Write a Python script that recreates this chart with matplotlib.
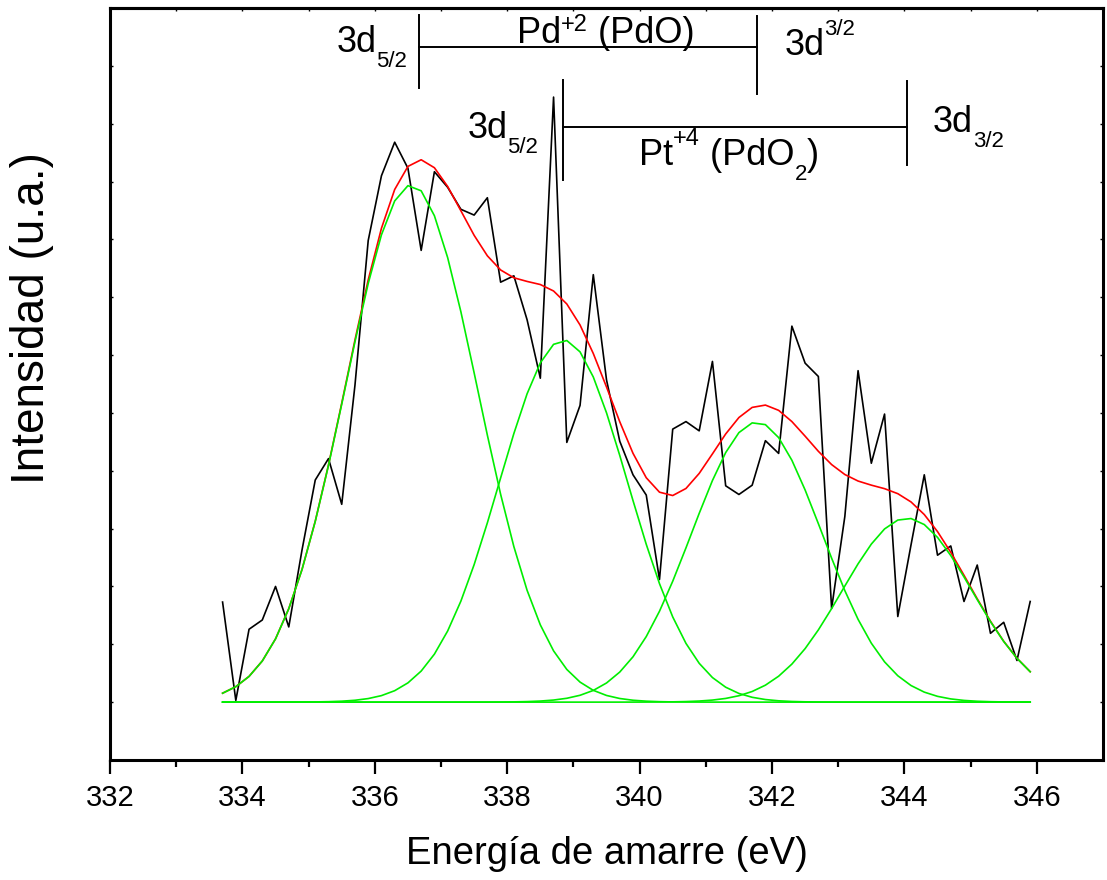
import numpy as np
import matplotlib
matplotlib.use("Agg")
import matplotlib.pyplot as plt
from matplotlib.transforms import offset_copy

plt.rcParams["font.family"] = ["Liberation Sans", "DejaVu Sans"]

# XPS Pd 3d region: measured spectrum (0.2 eV steps)
energy = np.round(np.arange(333.7, 345.91, 0.2), 1)
intensity = [
    2.73, 1.03, 2.26, 2.42, 3.00, 2.30, 3.63, 4.84, 5.21, 4.42,
    6.48, 8.98, 10.10, 10.68, 10.23, 8.81, 10.17, 9.90, 9.52, 9.42,
    9.72, 8.26, 8.37, 7.61, 6.60, 11.46, 5.49, 6.13, 8.39, 6.57,
    5.51, 4.93, 4.58, 3.12, 5.72, 5.85, 5.69, 6.89, 4.74, 4.59,
    4.75, 5.52, 5.30, 7.50, 6.86, 6.63, 2.62, 4.21, 6.73, 5.13,
    5.98, 2.48, 3.72, 4.93, 3.54, 3.70, 2.74, 3.37, 2.19, 2.38,
    1.72, 2.74,
]

# fitted gaussian components (Pd+2 3d5/2, Pt+4 3d5/2, Pd+2 3d3/2, Pt+4 3d3/2)
baseline = 1.0
peak_centers = [336.55, 338.85, 341.77, 344.04]
peak_heights = [8.94, 6.26, 4.84, 3.18]
peak_widths = [1.0, 0.97, 0.98, 0.98]

# doublet markers
pd_bracket = [336.66, 341.78]
pt_bracket = [338.85, 344.04]


def rich_text(ax, x, y, parts):
    # parts: (text, fontsize, vertical shift in points)
    fig = ax.figure
    renderer = fig.canvas.get_renderer()
    dx = 0.0
    for s, size, dy in parts:
        tr = offset_copy(ax.transData, fig=fig, x=dx, y=dy, units="points")
        t = ax.text(x, y, s, fontsize=size, transform=tr,
                    ha="left", va="baseline")
        bb = t.get_window_extent(renderer=renderer)
        dx += bb.width * 72.0 / fig.dpi


fig = plt.figure(figsize=(11.07, 8.8), dpi=100)
ax = fig.add_axes([0.0994, 0.1364, 0.8970, 0.8545])

components = []
for c, h, w in zip(peak_centers, peak_heights, peak_widths):
    components.append(h * np.exp(-(energy - c) ** 2 / (2 * w ** 2)))
envelope = baseline + np.sum(components, axis=0)

ax.plot(energy, intensity, color="black", lw=1.2)
ax.plot(energy, envelope, color="#ff0000", lw=1.2)
for comp in components:
    ax.plot(energy, baseline + comp, color="#00ee00", lw=1.2)

ax.set_xlim(332, 347)
ax.set_ylim(0, 13)
ax.set_xticks(np.arange(332, 347, 2))
ax.set_xticks(np.arange(333, 347, 2), minor=True)
ax.set_yticks(np.arange(1, 13))
ax.tick_params(axis="x", which="major", direction="out", length=10,
               width=1.6, labelsize=21, pad=7)
ax.tick_params(axis="x", which="minor", direction="out", length=5, width=1.6)
ax.tick_params(axis="y", left=True, right=True, direction="in", length=2.5,
               width=1, labelleft=False)
for sp in ax.spines.values():
    sp.set_linewidth(2.2)

top = ax.secondary_xaxis("top")
top.set_xticks(np.arange(332, 348, 1))
top.tick_params(direction="in", length=2.5, width=1, labeltop=False)
top.spines["top"].set_linewidth(2.2)

fig.text(607 / 1107, 1 - 864 / 880, "Energía de amarre (eV)",
         fontsize=27.5, ha="center", va="baseline")
fig.text(32 / 1107, 1 - 318 / 880, "Intensidad (u.a.)", fontsize=33,
         rotation=90, ha="center", va="center")

# Pd+2 doublet bracket
ax.plot(pd_bracket, [12.33, 12.33], color="black", lw=1.4)
ax.plot([pd_bracket[0]] * 2, [11.62, 12.88], color="black", lw=1.4)
ax.plot([pd_bracket[1]] * 2, [11.52, 12.86], color="black", lw=1.4)
# Pt+4 doublet bracket
ax.plot(pt_bracket, [10.95, 10.95], color="black", lw=1.4)
ax.plot([pt_bracket[0]] * 2, [10.03, 11.76], color="black", lw=1.4)
ax.plot([pt_bracket[1]] * 2, [10.29, 11.73], color="black", lw=1.4)

rich_text(ax, 335.42, 12.24, [("3d", 26, 0), ("5/2", 16, -10.5)])
rich_text(ax, 338.15, 12.40, [("Pd", 26, 0), ("+2", 17, 8.5), (" (PdO)", 26, 0)])
rich_text(ax, 342.19, 12.19, [("3d", 26, 0), ("3/2", 16, 14)])
rich_text(ax, 337.40, 10.75, [("3d", 26, 0), ("5/2", 16, -11)])
rich_text(ax, 339.99, 10.29, [("Pt", 26, 0), ("+4", 17, 14), (" (PdO", 26, 0),
                              ("2", 16, -11), (")", 26, 0)])
rich_text(ax, 344.43, 10.86, [("3d", 26, 0), ("3/2", 16, -10.8)])

fig.savefig("out.png", dpi=100)
